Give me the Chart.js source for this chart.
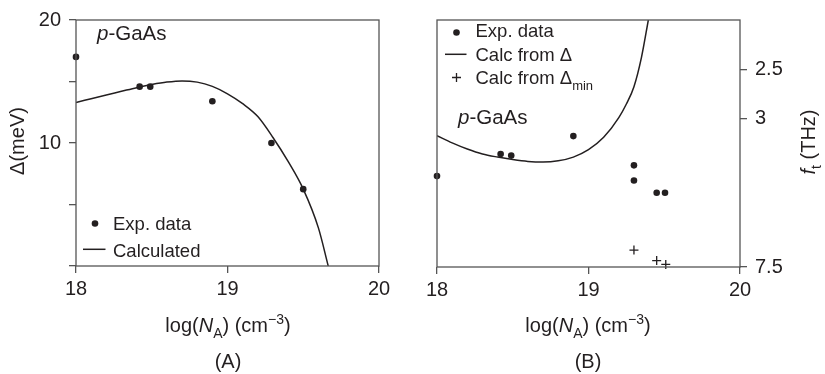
<!DOCTYPE html>
<html lang="en">
<head>
<meta charset="UTF-8">
<title>p-GaAs gap and ft</title>
<script src="https://cdn.jsdelivr.net/npm/chart.js@4.4.1/dist/chart.umd.min.js"></script>
<style>
  body { margin: 0; background: #fff; }
  #wrap { position: relative; width: 825px; height: 374px; }
  .box { position: absolute; top: 0; height: 374px; }
</style>
</head>
<body>
<div id="wrap">
  <div class="box" style="left:0;width:412px"><canvas id="chartA" width="412" height="374"></canvas></div>
  <div class="box" style="left:412px;width:413px"><canvas id="chartB" width="413" height="374"></canvas></div>
</div>
<script>
// panel (A): Delta (meV) vs log(NA)
var expA_x = [18.0, 18.42, 18.49, 18.90, 19.29, 19.50]
var expA_y = [17.0, 14.58, 14.58, 13.39, 10.0, 6.25]
var calcA_x = [18.0, 18.1, 18.2, 18.3, 18.4, 18.5, 18.6, 18.7, 18.8, 18.9, 19.0, 19.1, 19.2, 19.3, 19.4, 19.5, 19.6, 19.665]
var calcA_y = [13.3, 13.6, 13.9, 14.2, 14.5, 14.75, 14.95, 15.05, 14.95, 14.6, 14.0, 13.2, 12.15, 10.45, 8.5, 6.25, 3.1, 0]
var yTicksA = [10, 20]

// panel (B): ft, drawn on the same 0..20 frame
var expB_x = [18.0, 18.42, 18.49, 18.90, 19.30, 19.30, 19.45, 19.505]
var expB_y = [7.36, 9.15, 9.02, 10.6, 8.23, 7.0, 6.01, 6.01]
var minB_x = [19.30, 19.45, 19.51]
var minB_y = [1.37, 0.52, 0.21]
var calcB_x = [18.0, 18.1, 18.2, 18.3, 18.4, 18.5, 18.6, 18.7, 18.8, 18.9, 19.0, 19.1, 19.2, 19.25, 19.3, 19.35, 19.395]
var calcB_y = [10.63, 10.05, 9.55, 9.15, 8.9, 8.7, 8.55, 8.5, 8.6, 8.9, 9.5, 10.5, 12.1, 13.2, 14.6, 17.0, 20.0]
var ftLabels = ['2.5', '3', '7.5']
var ftPos = [16.0, 12.0, 0]

var ink = '#231f20'
var frameColor = '#555'
var fam = '"Liberation Sans", Arial, sans-serif'

function pts(xs, ys) {
  return xs.map(function(x, i) { return { x: x, y: ys[i] } })
}

function fontFor(s, size) {
  var sz = (s.sub || s.sup) ? Math.round(size * 0.7) : size
  return (s.it ? 'italic ' : '') + sz + 'px ' + fam
}

// draws text made of normal / italic / sub / sup pieces, y is baseline
function drawRich(ctx, segs, x, y, size, align) {
  var w = 0
  segs.forEach(function(s) { ctx.font = fontFor(s, size); w += ctx.measureText(s.t).width })
  var cx = align === 'center' ? x - w / 2 : x
  ctx.textAlign = 'left'
  ctx.textBaseline = 'alphabetic'
  segs.forEach(function(s) {
    ctx.font = fontFor(s, size)
    var dy = s.sub ? size * 0.3 : (s.sup ? -size * 0.4 : 0)
    ctx.fillText(s.t, cx, y + dy)
    cx += ctx.measureText(s.t).width
  })
}

var xTitle = [{ t: 'log(' }, { t: 'N', it: true }, { t: 'A', sub: true }, { t: ') (cm' }, { t: '\u22123', sup: true }, { t: ')' }]
var pGaAs = [{ t: 'p', it: true }, { t: '-GaAs' }]

function frameAndText(texts) {
  return {
    id: 'frameText',
    afterDraw: function(chart) {
      var ctx = chart.ctx
      var a = chart.chartArea
      ctx.save()
      ctx.strokeStyle = frameColor
      ctx.lineWidth = 1.3
      ctx.strokeRect(a.left, a.top, a.right - a.left, a.bottom - a.top)
      ctx.fillStyle = ink
      ctx.strokeStyle = ink
      texts(ctx, a)
      ctx.restore()
    }
  }
}

function dot(ctx, x, y) {
  ctx.beginPath(); ctx.arc(x, y, 3.3, 0, Math.PI * 2); ctx.fill()
}
function dash(ctx, x1, x2, y) {
  ctx.lineWidth = 1.5; ctx.beginPath(); ctx.moveTo(x1, y); ctx.lineTo(x2, y); ctx.stroke()
}
function plus(ctx, x, y) {
  ctx.lineWidth = 1.3; ctx.beginPath()
  ctx.moveTo(x - 4.5, y); ctx.lineTo(x + 4.5, y); ctx.moveTo(x, y - 4.5); ctx.lineTo(x, y + 4.5); ctx.stroke()
}

var tickFont = { family: fam, size: 20 }
var xScale = function(h) {
  return {
    type: 'linear', min: 18, max: 20,
    ticks: { stepSize: 1, font: tickFont, color: ink, padding: 4 },
    grid: { drawOnChartArea: false, tickLength: 7, color: frameColor, lineWidth: 1.3 },
    border: { display: false },
    afterFit: function(s) { s.height = h }
  }
}

var dotSet = function(data) {
  return { data: data, showLine: false, clip: false, pointStyle: 'circle', pointRadius: 3.3, pointBackgroundColor: ink, pointBorderWidth: 0 }
}
var lineSet = function(data) {
  return { data: data, showLine: true, pointRadius: 0, borderColor: ink, borderWidth: 1.5, cubicInterpolationMode: 'monotone', fill: false }
}

new Chart(document.getElementById('chartA'), {
  type: 'scatter',
  data: { datasets: [dotSet(pts(expA_x, expA_y)), lineSet(pts(calcA_x, calcA_y))] },
  options: {
    responsive: false, animation: false, devicePixelRatio: 1,
    layout: { padding: { top: 14, right: 33, left: 0, bottom: 0 } },
    plugins: { legend: { display: false }, tooltip: { enabled: false } },
    scales: {
      x: xScale(108),
      y: {
        type: 'linear', min: 0, max: 20,
        ticks: { stepSize: 5, font: tickFont, color: ink, padding: 8,
          callback: function(v) { return yTicksA.indexOf(v) >= 0 ? String(v) : '' } },
        grid: { drawOnChartArea: false, tickLength: 7, color: frameColor, lineWidth: 1.3 },
        border: { display: false },
        afterFit: function(s) { s.width = 76 }
      }
    }
  },
  plugins: [frameAndText(function(ctx, a) {
    drawRich(ctx, pGaAs, 97, 39.5, 20.5, 'left')
    dot(ctx, 95, 223.5)
    drawRich(ctx, [{ t: 'Exp. data' }], 113, 229.5, 18.5, 'left')
    dash(ctx, 83, 105.5, 249.3)
    drawRich(ctx, [{ t: 'Calculated' }], 113, 256.5, 18.5, 'left')
    drawRich(ctx, xTitle, 228, 332, 20, 'center')
    drawRich(ctx, [{ t: '(A)' }], 228, 368, 20, 'center')
    ctx.save(); ctx.translate(24, 141); ctx.rotate(-Math.PI / 2)
    drawRich(ctx, [{ t: '\u0394(meV)' }], 0, 0, 20, 'center')
    ctx.restore()
  })]
})

new Chart(document.getElementById('chartB'), {
  type: 'scatter',
  data: { datasets: [
    dotSet(pts(expB_x, expB_y)),
    lineSet(pts(calcB_x, calcB_y)),
    { data: pts(minB_x, minB_y), showLine: false, clip: false, pointStyle: 'cross', pointRadius: 4.5, borderColor: ink, pointBorderWidth: 1.3 }
  ] },
  options: {
    responsive: false, animation: false, devicePixelRatio: 1,
    layout: { padding: { top: 14, left: 25, right: 0, bottom: 0 } },
    plugins: { legend: { display: false }, tooltip: { enabled: false } },
    scales: {
      x: xScale(107),
      y: { type: 'linear', min: 0, max: 20, display: false },
      y2: {
        type: 'linear', position: 'right', min: 0, max: 20,
        afterBuildTicks: function(s) { s.ticks = ftPos.map(function(v) { return { value: v } }) },
        ticks: { font: tickFont, color: ink, padding: 8,
          callback: function(v, i) { return ftLabels[i] } },
        grid: { drawOnChartArea: false, tickLength: 7, color: frameColor, lineWidth: 1.3 },
        border: { display: false },
        afterFit: function(s) { s.width = 85 }
      }
    }
  },
  plugins: [frameAndText(function(ctx, a) {
    dot(ctx, 44.5, 32.5)
    drawRich(ctx, [{ t: 'Exp. data' }], 63.5, 36.7, 18.5, 'left')
    dash(ctx, 33, 54.5, 54.3)
    drawRich(ctx, [{ t: 'Calc from \u0394' }], 63.5, 61.2, 18.5, 'left')
    plus(ctx, 44.5, 77.5)
    drawRich(ctx, [{ t: 'Calc from \u0394' }, { t: 'min', sub: true }], 63.5, 84, 18.5, 'left')
    drawRich(ctx, pGaAs, 46, 124, 20.5, 'left')
    drawRich(ctx, xTitle, 176, 332, 20, 'center')
    drawRich(ctx, [{ t: '(B)' }], 176, 368, 20, 'center')
    ctx.save(); ctx.translate(403, 142); ctx.rotate(-Math.PI / 2)
    drawRich(ctx, [{ t: 'f', it: true }, { t: 't', sub: true }, { t: ' (THz)' }], 0, 0, 20, 'center')
    ctx.restore()
  })]
})
</script>
</body>
</html>
